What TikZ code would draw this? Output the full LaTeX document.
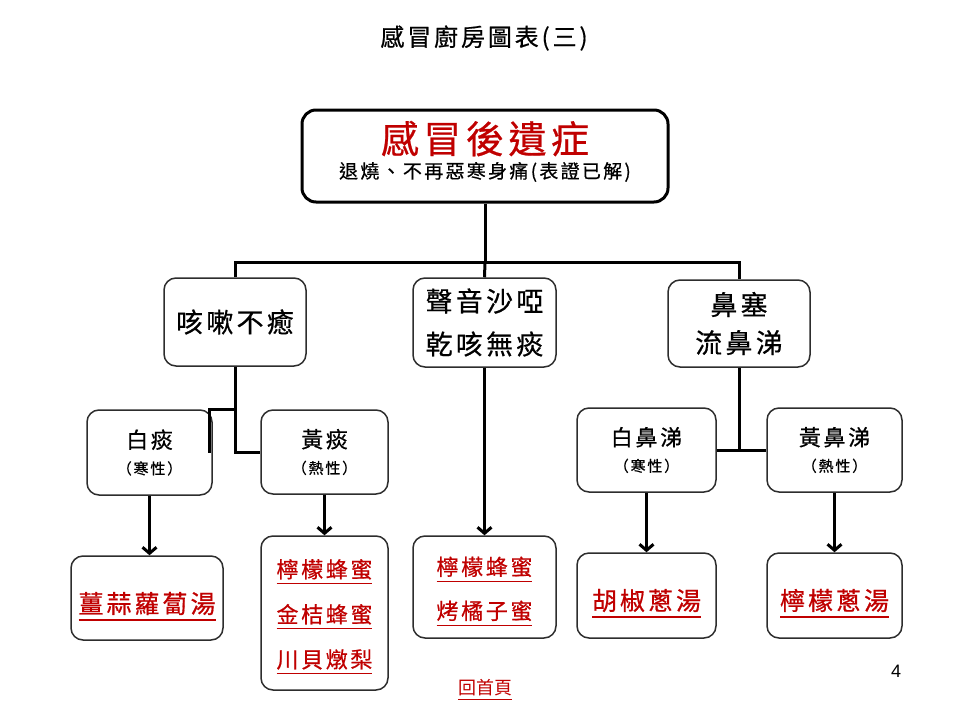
\documentclass[tikz,border=0pt]{standalone}
\usepackage{fontspec}
\setmainfont{Noto Sans CJK TC}[LetterSpace=12,FakeBold=0.6]
\newfontfamily\latinfont{Liberation Sans}
\newfontfamily\linkfont{Noto Sans CJK TC}
\usetikzlibrary{arrows.meta, positioning}
\definecolor{recipered}{RGB}{192,0,0}
\definecolor{boxgray}{RGB}{45,45,45}
\newcommand{\fs}[2]{\fontsize{#1}{#2}\selectfont}
% red underlined remedy line
\newcommand{\remline}[1]{\setbox0=\hbox{#1}\leavevmode\rlap{\raisebox{-0.3em}{\rule{\wd0}{1.1pt}}}\box0}
\tikzset{%
	box/.style={
		draw=boxgray,
		line width=1.5pt,
		rounded corners=12pt,
		fill=white,
		align=center,
		inner sep=0pt
	},
	remedy/.style={
		box,
		text=recipered
	},
	conn/.style={line width=3pt},
	arr/.style={conn, -{Straight Barb[length=6pt,width=14pt]}},
}

\begin{document}
\begin{tikzpicture}[x=1pt, y=-1pt]
			\useasboundingbox (0,0) rectangle (960,720);
			
			% Page title
			\node[font=\fs{24}{26}] (title) at (484,38) {感冒廚房圖表(三)};
			
			% Top box
			\node[box, draw=black, line width=3pt, rounded corners=14pt, minimum width=366, minimum height=92, font=\fs{38}{25}] (main) at (485,156)
				{{\color{recipered}感冒後遺症}\\{\fs{19}{20}退燒、不再惡寒身痛(表證已解)\rule[-13pt]{0pt}{13pt}}};
			
			% Second row
			\node[box, minimum width=142, minimum height=88, font=\fs{27}{30}] (cough) at (235,322) {咳嗽不癒};
			\node[box, minimum width=143, minimum height=89, font=\fs{27}{43}] (voice) at (484.5,322.5) {聲音沙啞\\乾咳無痰};
			\node[box, minimum width=142, minimum height=87, font=\fs{27}{38}] (nose) at (739,323.5) {鼻塞\\流鼻涕};
			
			% Third row
			\node[box, minimum width=125, minimum height=85, font=\fs{22}{26}] (wphlegm) at (149.5,452.5) {白痰\\{\fs{15}{16}（寒性）}};
			\node[box, minimum width=127, minimum height=84, font=\fs{22}{26}] (yphlegm) at (324.5,452) {黃痰\\{\fs{15}{16}（熱性）}};
			\node[box, minimum width=139, minimum height=84, font=\fs{22}{26}] (wnose) at (646.5,450) {白鼻涕\\{\fs{15}{16}（寒性）}};
			\node[box, minimum width=135, minimum height=84, font=\fs{22}{26}] (ynose) at (834.5,450) {黃鼻涕\\{\fs{15}{16}（熱性）}};
			
			% Remedies
			\node[remedy, minimum width=152, minimum height=84, font=\fs{25}{26}, text height=30pt, text depth=0pt] (ginger) at (147,598) {\remline{薑蒜蘿蔔湯}};
			\node[remedy, minimum width=127, minimum height=154, font=\fs{22}{45}] (yremedy) at (324.5,613) {\rule{0pt}{26pt}\remline{檸檬蜂蜜}\\\remline{金桔蜂蜜}\\\remline{川貝燉梨}};
			\node[remedy, minimum width=143, minimum height=102, font=\fs{22}{44}] (vremedy) at (484.5,587) {\rule{0pt}{27pt}\remline{檸檬蜂蜜}\\\remline{烤橘子蜜}};
			\node[remedy, minimum width=139, minimum height=85, font=\fs{25}{26}, text height=29pt, text depth=0pt] (pepper) at (646.5,595.5) {\remline{胡椒蔥湯}};
			\node[remedy, minimum width=135, minimum height=85, font=\fs{25}{26}, text height=29pt, text depth=0pt] (lemon) at (834.5,595.5) {\remline{檸檬蔥湯}};
			
			% Tree lines
			\coordinate (hub) at (485,262);
			\draw[conn] (main.south) -- (hub);
			\draw[conn] (cough.north) |- (hub) -| (nose.north);
			\draw[conn] (hub) -- (voice.north);
			\draw[conn] (cough.south) |- (yphlegm.west);
			\draw[conn] (cough.south |- wphlegm.north) -| ([xshift=-3pt]wphlegm.east);
			\draw[conn] (nose.south) -- (nose.south |- wnose.east);
			\draw[conn] (wnose.east) -- (ynose.west);
			
			% Arrows
			\draw[arr] (wphlegm.south) -- (wphlegm.south |- ginger.north);
			\draw[arr] (yphlegm.south) -- (yremedy.north);
			\draw[arr] (voice.south) -- (vremedy.north);
			\draw[arr] (wnose.south) -- (pepper.north);
			\draw[arr] (ynose.south) -- (lemon.north);
			
			% Footer
			\node[font=\latinfont\fs{18}{20}] (pagenum) at (896,671) {4};
			\node[text=recipered, font=\linkfont\fs{18}{20}] (home) at (485,690) {\remline{回首頁}};

		\end{tikzpicture}
\end{document}
